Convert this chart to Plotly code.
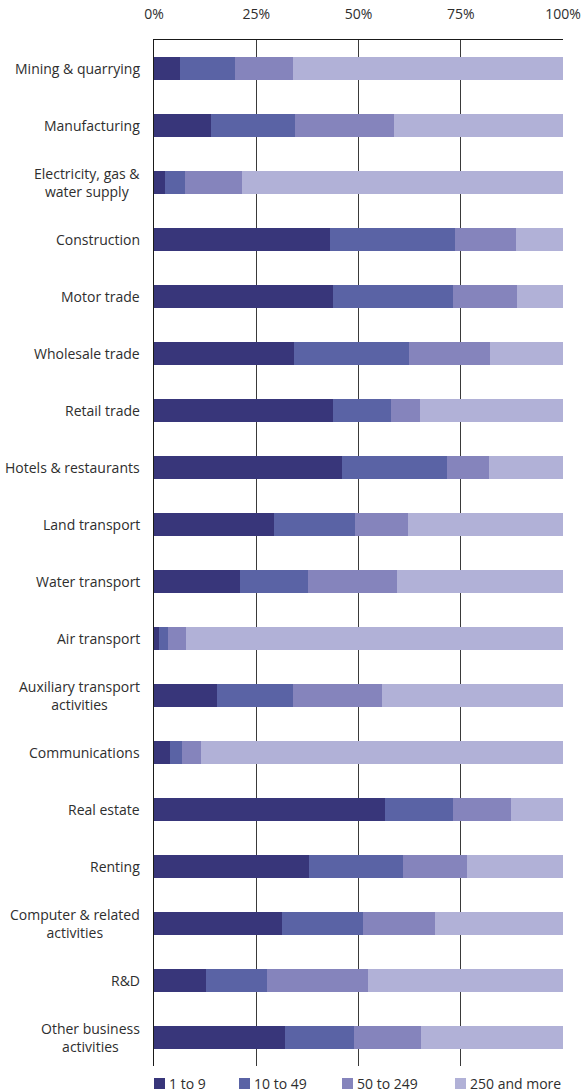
import plotly.graph_objects as go

# Share of employment by enterprise size band, per sector (percent)
sectors = [
    "Mining & quarrying",
    "Manufacturing",
    "Electricity, gas &<br>water supply",
    "Construction",
    "Motor trade",
    "Wholesale trade",
    "Retail trade",
    "Hotels & restaurants",
    "Land transport",
    "Water transport",
    "Air transport",
    "Auxiliary transport<br>activities",
    "Communications",
    "Real estate",
    "Renting",
    "Computer & related<br>activities",
    "R&D",
    "Other business<br>activities",
]

size_1_9 = [6.4, 14.0, 2.6, 43.1, 43.8, 34.2, 43.8, 46.0, 29.3, 21.0, 1.3, 15.5, 4.0, 56.5, 37.9, 31.3, 12.8, 32.1]
size_10_49 = [13.5, 20.5, 5.1, 30.5, 29.2, 28.1, 14.1, 25.6, 19.9, 16.7, 2.2, 18.5, 2.9, 16.5, 22.9, 19.8, 14.9, 16.8]
size_50_249 = [14.1, 24.2, 13.9, 14.8, 15.7, 19.8, 7.1, 10.3, 12.9, 21.7, 4.4, 21.7, 4.7, 14.2, 15.7, 17.6, 24.6, 16.3]
size_250_plus = [66.0, 41.3, 78.4, 11.6, 11.3, 17.9, 35.0, 18.1, 37.9, 40.6, 92.1, 44.3, 88.4, 12.8, 23.5, 31.3, 47.7, 34.8]

band_names = ["1 to 9", "10 to 49", "50 to 249", "250 and more"]
band_values = [size_1_9, size_10_49, size_50_249, size_250_plus]
band_colors = ["#38367a", "#5a63a5", "#8584bc", "#b1b1d7"]

tick_values = [0, 25, 50, 75, 100]
tick_labels = ["0%", "25%", "50%", "75%", "100%"]

FONT = "Open Sans"
TEXT = "#2e2e2e"

fig = go.Figure()
for name, vals, col in zip(band_names, band_values, band_colors):
    fig.add_trace(go.Bar(
        y=sectors, x=vals, name=name, orientation="h",
        marker=dict(color=col, line=dict(width=0)),
        showlegend=False,
    ))

# Sector labels, centred on multiple lines and right-aligned against the axis
for s in sectors:
    fig.add_annotation(
        x=0, xref="paper", y=s, yref="y",
        text=s, showarrow=False, xanchor="right", yanchor="middle",
        xshift=-12, align="center",
        font=dict(family=FONT, size=14, color=TEXT),
    )

# Legend row under the plot: swatch + label
legend_offsets = [0, 85, 188, 301]
for name, col, off in zip(band_names, band_colors, legend_offsets):
    fig.add_shape(
        type="rect", xref="paper", yref="paper",
        xsizemode="pixel", ysizemode="pixel",
        xanchor=0, yanchor=0,
        x0=off, x1=off + 11, y0=-12, y1=-23,
        fillcolor=col, line=dict(width=0),
    )
    fig.add_annotation(
        x=0, xref="paper", y=0, yref="paper",
        xshift=off + 13, yshift=-17.5,
        text=name, showarrow=False, xanchor="left", yanchor="middle",
        font=dict(family=FONT, size=14, color=TEXT),
    )

fig.update_layout(
    width=585, height=1092, autosize=False,
    margin=dict(l=154, r=22, t=40, b=26, pad=0, autoexpand=False),
    barmode="stack", bargap=0.58,
    plot_bgcolor="white", paper_bgcolor="white",
    font=dict(family=FONT, size=14, color=TEXT),
    xaxis=dict(
        side="top", range=[0, 100], automargin=False,
        tickvals=tick_values, ticktext=tick_labels,
        showgrid=True, gridcolor="#3a3a3a", gridwidth=1,
        showline=True, linecolor="#1a1a1a", linewidth=1,
        zeroline=False, ticks="", ticklabelstandoff=14,
        tickfont=dict(family=FONT, size=14, color=TEXT),
        fixedrange=True,
    ),
    yaxis=dict(
        type="category", categoryorder="array", categoryarray=sectors,
        range=[len(sectors) - 0.5, -0.5], automargin=False,
        showticklabels=False, showgrid=False, zeroline=False,
        showline=True, linecolor="#1a1a1a", linewidth=1,
        ticks="", fixedrange=True,
    ),
)

fig.write_html("out.html")
